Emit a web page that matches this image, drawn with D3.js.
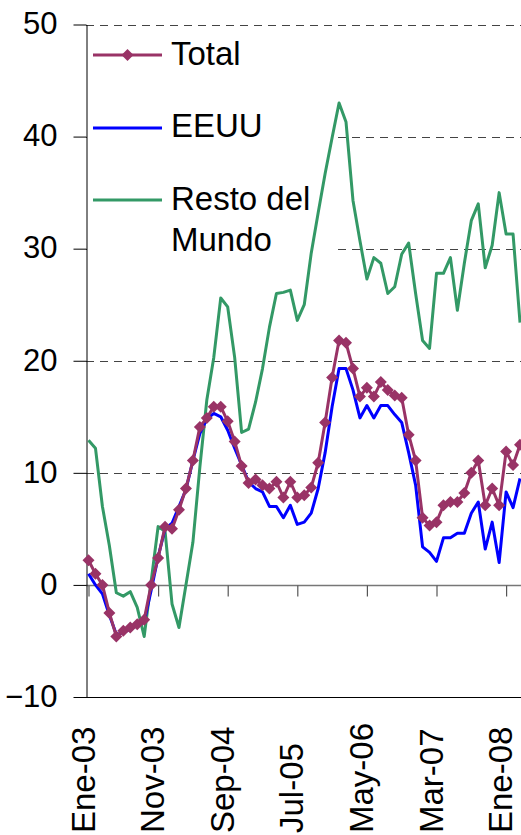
<!DOCTYPE html>
<html>
<head>
<meta charset="utf-8">
<script src="https://cdn.jsdelivr.net/npm/d3@7"></script>
<style>
  body { margin: 0; background: #fff; }
  text { font-family: "Liberation Sans", Arial, sans-serif; fill: #000; }
</style>
</head>
<body>
<div id="viz"></div>
<script>
// monthly categories, Ene-03 .. Mar-08
var monthNames = ["Ene","Feb","Mar","Abr","May","Jun","Jul","Ago","Sep","Oct","Nov","Dic"];
var categories = d3.range(63).map(function(i) {
  return monthNames[i % 12] + "-" + String(3 + Math.floor(i / 12)).padStart(2, "0");
});
var tickLabels = ["Ene-03","Nov-03","Sep-04","Jul-05","May-06","Mar-07","Ene-08"];
var yTicks = [-10, 0, 10, 20, 30, 40, 50];

var total = [2.2,1.0,0.0,-2.5,-4.6,-4.1,-3.8,-3.5,-3.1,0.0,
  2.4,5.2,5.0,6.7,8.6,11.1,14.1,14.9,15.9,15.9,
  14.6,12.8,10.6,9.1,9.4,8.9,8.6,9.2,7.8,9.2,
  7.8,8.0,8.7,10.9,14.5,18.5,21.8,21.6,19.3,16.8,
  17.6,16.8,18.1,17.4,16.9,16.7,13.4,11.1,6.0,5.3,
  5.6,7.1,7.4,7.4,8.2,10.0,11.1,7.1,8.6,7.1,
  11.9,10.7,12.5];

var eeuu = [1.0,0.0,-0.8,-2.7,-4.4,-4.3,-3.9,-3.6,-3.3,-0.5,
  2.5,5.0,5.5,7.0,8.5,11.1,13.5,14.8,15.3,15.0,
  13.8,12.2,10.7,9.2,8.6,8.3,7.0,7.0,6.0,7.1,
  5.4,5.6,6.4,8.6,11.8,15.9,19.3,19.3,17.4,14.9,
  16.0,14.9,16.0,16.0,15.2,14.5,11.8,8.9,3.4,2.9,
  2.1,4.2,4.2,4.6,4.6,6.4,7.4,3.2,5.6,2.0,
  8.3,6.9,9.5];

var resto = [12.9,12.2,7.0,3.5,-0.7,-1.0,-0.6,-2.0,-4.6,0.3,
  5.2,4.8,-1.7,-3.8,0.0,3.8,10.5,16.5,20.3,25.6,
  24.8,20.3,13.6,13.9,16.3,19.3,23.0,26.0,26.1,26.3,
  23.6,25.0,29.6,33.2,36.7,39.9,43.0,41.3,34.3,30.7,
  27.3,29.2,28.7,26.0,26.6,29.5,30.5,26.0,21.8,21.1,
  27.8,27.8,29.2,24.5,28.7,32.5,34.0,28.3,30.3,35.0,
  31.3,31.3,23.4];

var width = 521, height = 835;

var svg = d3.select("#viz")
  .append("svg")
    .attr("width", width)
    .attr("height", height);

var x = d3.scalePoint()
    .domain(categories)
    .range([88.5, 88.5 + 62 * 6.96]);

var y = d3.scaleLinear()
    .domain([-10, 50])
    .range([697, 24.5]);

var axisX = 86;

// dashed gridlines
svg.append("g")
  .selectAll("line")
  .data([10, 20, 30, 40, 50])
  .join("line")
    .attr("x1", axisX).attr("x2", width)
    .attr("y1", function(d) { return Math.round(y(d)) + 0.5; })
    .attr("y2", function(d) { return Math.round(y(d)) + 0.5; })
    .attr("stroke", "#444")
    .attr("stroke-width", 1.2)
    .attr("stroke-dasharray", "8,6");

// legend background hides the gridlines behind it
svg.append("rect")
  .attr("x", axisX + 1).attr("y", 26)
  .attr("width", 245).attr("height", 246)
  .attr("fill", "#fff");

// bottom border at -10
svg.append("line")
  .attr("x1", axisX).attr("x2", width)
  .attr("y1", Math.round(y(-10)) + 0.5).attr("y2", Math.round(y(-10)) + 0.5)
  .attr("stroke", "#000");

// category axis crossing at 0
var gx = svg.append("g")
  .attr("transform", "translate(0," + (Math.round(y(0)) + 0.5) + ")")
  .call(d3.axisBottom(x).tickValues(tickLabels).tickSize(11).tickSizeOuter(0).tickFormat(""));
gx.select(".domain").attr("stroke", "#777").attr("stroke-width", 1.5)
  .attr("d", "M" + axisX + ",0H" + width);
gx.selectAll(".tick line").attr("stroke", "#555").attr("stroke-width", 1.2);

// tick labels at bottom, rotated
svg.append("g")
  .selectAll("text")
  .data(tickLabels)
  .join("text")
    .attr("transform", function(d) { return "translate(" + (x(d) + 6) + ",833) rotate(-90)"; })
    .attr("text-anchor", "start")
    .style("font-size", "33px")
    .text(function(d) { return d; });

// y axis
var gy = svg.append("g")
  .attr("transform", "translate(" + (axisX + 0.5) + ",0)")
  .call(d3.axisLeft(y).tickValues(yTicks).tickSize(13).tickPadding(16).tickSizeOuter(0));
gy.select(".domain").attr("stroke", "#000");
gy.selectAll(".tick line").attr("stroke", "#000");
gy.selectAll(".tick text")
  .style("font-size", "31px")
  .attr("dy", "0.3em")
  .attr("fill", "#000");

// series
var line = function(values) {
  return d3.line()
    .x(function(d, i) { return x(categories[i]); })
    .y(function(d) { return y(d); })(values);
};

svg.append("path")
  .attr("d", line(resto))
  .attr("fill", "none")
  .attr("stroke", "#339966")
  .attr("stroke-width", 3)
  .attr("stroke-linejoin", "round");

svg.append("path")
  .attr("d", line(eeuu))
  .attr("fill", "none")
  .attr("stroke", "#0000ff")
  .attr("stroke-width", 3)
  .attr("stroke-linejoin", "round");

svg.append("path")
  .attr("d", line(total))
  .attr("fill", "none")
  .attr("stroke", "#993366")
  .attr("stroke-width", 3)
  .attr("stroke-linejoin", "round");

var diamond = d3.symbol().type(d3.symbolSquare).size(72);
svg.append("g")
  .selectAll("path")
  .data(total)
  .join("path")
    .attr("d", diamond)
    .attr("transform", function(d, i) { return "translate(" + x(categories[i]) + "," + y(d) + ") rotate(45)"; })
    .attr("fill", "#993366");

// legend
var legend = svg.append("g");

var legendItems = [
  { name: ["Total"], color: "#993366", ly: 55, ty: 65, marker: true },
  { name: ["EEUU"], color: "#0000ff", ly: 128, ty: 137, marker: false },
  { name: ["Resto del", "Mundo"], color: "#339966", ly: 200, ty: 210, marker: false }
];

legendItems.forEach(function(item) {
  legend.append("line")
    .attr("x1", 93).attr("x2", 162)
    .attr("y1", item.ly).attr("y2", item.ly)
    .attr("stroke", item.color)
    .attr("stroke-width", 3);
  if (item.marker) {
    legend.append("path")
      .attr("d", diamond)
      .attr("transform", "translate(127.5," + item.ly + ") rotate(45)")
      .attr("fill", item.color);
  }
  var t = legend.append("text")
    .attr("x", 171).attr("y", item.ty)
    .style("font-size", "33px");
  item.name.forEach(function(s, k) {
    t.append("tspan").attr("x", 171).attr("dy", k === 0 ? 0 : 41).text(s);
  });
});
</script>
</body>
</html>
